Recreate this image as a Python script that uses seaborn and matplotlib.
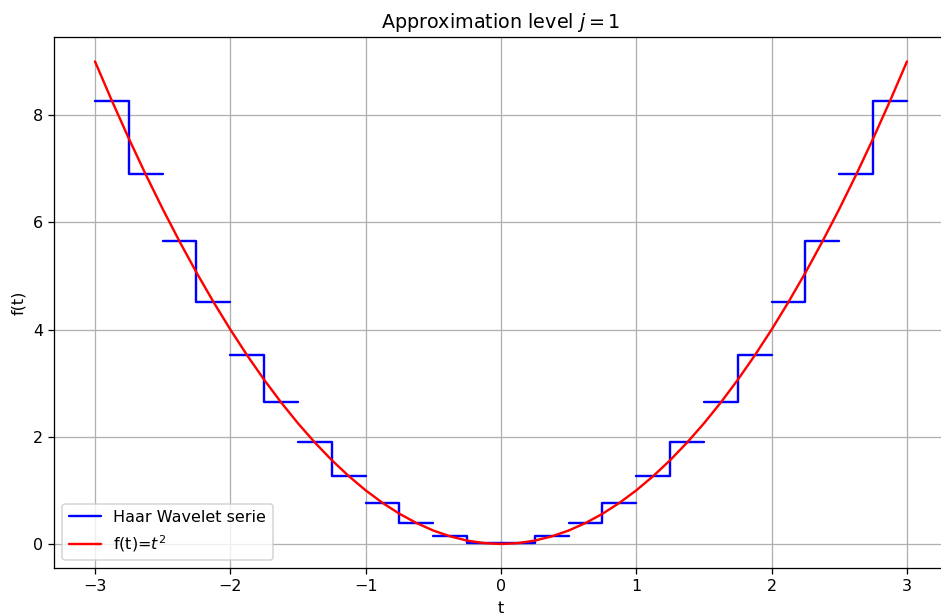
import matplotlib
matplotlib.use("Agg")
import matplotlib.pyplot as plt
import seaborn as sns
import pandas as pd

# Haar approximation: interval starts (width 0.25) and averaged values
interval_starts = [-3.0, -2.75, -2.5, -2.25, -2.0, -1.75, -1.5, -1.25, -1.0, -0.75, -0.5, -0.25,
                   0.0, 0.25, 0.5, 0.75, 1.0, 1.25, 1.5, 1.75, 2.0, 2.25, 2.5, 2.75]
haar_values = [8.271, 6.896, 5.646, 4.521, 3.521, 2.646, 1.896, 1.271, 0.771, 0.396, 0.146, 0.021,
               0.021, 0.146, 0.396, 0.771, 1.271, 1.896, 2.646, 3.521, 4.521, 5.646, 6.896, 8.271]
interval_width = 0.25

# f(t) = t^2 sampled curve
curve_t = [-3.0, -2.875, -2.75, -2.625, -2.5, -2.375, -2.25, -2.125, -2.0, -1.875, -1.75, -1.625,
           -1.5, -1.375, -1.25, -1.125, -1.0, -0.875, -0.75, -0.625, -0.5, -0.375, -0.25, -0.125,
           0.0, 0.125, 0.25, 0.375, 0.5, 0.625, 0.75, 0.875, 1.0, 1.125, 1.25, 1.375, 1.5, 1.625,
           1.75, 1.875, 2.0, 2.125, 2.25, 2.375, 2.5, 2.625, 2.75, 2.875, 3.0]
curve_f = [9.0, 8.266, 7.5625, 6.891, 6.25, 5.641, 5.0625, 4.516, 4.0, 3.516, 3.0625, 2.641,
           2.25, 1.891, 1.5625, 1.266, 1.0, 0.766, 0.5625, 0.391, 0.25, 0.141, 0.0625, 0.0156,
           0.0, 0.0156, 0.0625, 0.141, 0.25, 0.391, 0.5625, 0.766, 1.0, 1.266, 1.5625, 1.891,
           2.25, 2.641, 3.0625, 3.516, 4.0, 4.516, 5.0625, 5.641, 6.25, 6.891, 7.5625, 8.266, 9.0]

# Build step data: each pair of intervals is one step line
rows = []
for k in range(0, len(interval_starts), 2):
    a = interval_starts[k]
    v1, v2 = haar_values[k], haar_values[k + 1]
    pair = k // 2
    rows.append((pair, a, v1))
    rows.append((pair, a + interval_width, v2))
    rows.append((pair, a + 2 * interval_width, v2))
step_df = pd.DataFrame(rows, columns=["pair", "t", "v"])
curve_df = pd.DataFrame({"t": curve_t, "f": curve_f})

sns.set_style("ticks")
plt.rcParams["font.family"] = ["DejaVu Sans"]
plt.rcParams["text.color"] = "black"
plt.rcParams["axes.labelcolor"] = "black"
plt.rcParams["xtick.color"] = "black"
plt.rcParams["ytick.color"] = "black"

DPI = 115
fig, ax = plt.subplots(figsize=(941 / DPI, 616 / DPI), dpi=DPI)
sns.lineplot(data=step_df, x="t", y="v", units="pair", estimator=None, sort=False,
             drawstyle="steps-post", color="blue", linewidth=1.5, ax=ax)
sns.lineplot(data=curve_df, x="t", y="f", color="red", linewidth=1.5, ax=ax)

ax.grid(True, color="#b0b0b0", linewidth=0.8)
ax.set_axisbelow(True)
ax.set_title("Approximation level $j=1$", fontsize=12)
ax.set_xlabel("t", fontsize=10)
ax.set_ylabel("f(t)", fontsize=10)
ax.set_xticks([-3, -2, -1, 0, 1, 2, 3])
ax.set_yticks([0, 2, 4, 6, 8])
ax.set_xlim(-3.3, 3.3)
ax.set_ylim(-0.45, 9.45)
ax.tick_params(labelsize=10, colors="black")
for s in ax.spines.values():
    s.set_visible(True)
    s.set_color("black")
    s.set_linewidth(0.8)

lines = ax.get_lines()
ax.legend([lines[0], lines[-1]], ["Haar Wavelet serie", "f(t)=$t^2$"], loc="lower left", fontsize=10)

fig.subplots_adjust(left=0.0578, right=1.007, top=0.9394, bottom=0.0778)
fig.savefig("out.png", dpi=DPI)
